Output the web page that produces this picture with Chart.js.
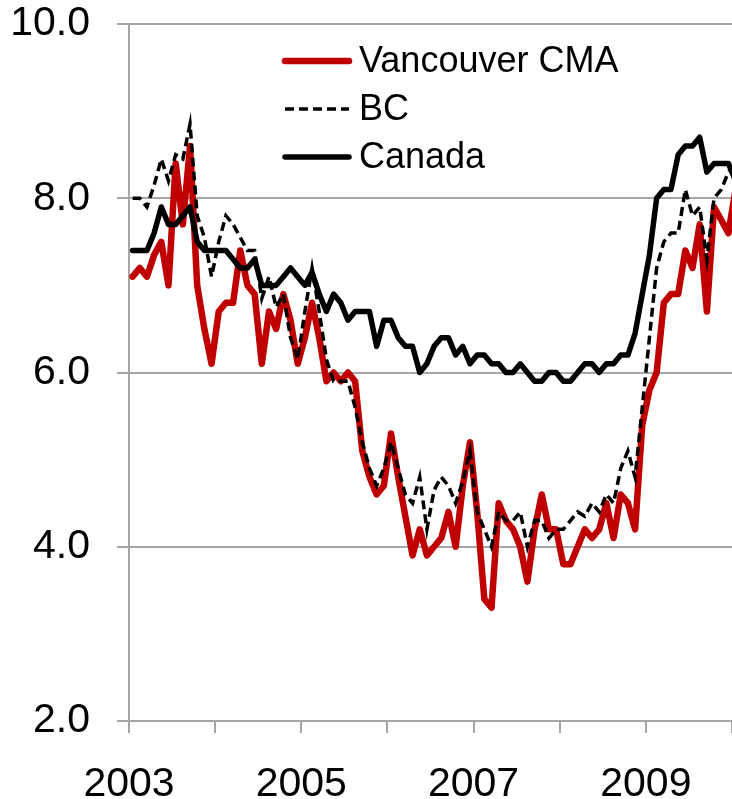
<!DOCTYPE html>
<html><head><meta charset="utf-8">
<style>
  html, body { margin: 0; padding: 0; background: #fff; overflow: hidden; }
  #wrap { position: relative; width: 732px; height: 799px; }
</style>
<script src="https://cdn.jsdelivr.net/npm/chart.js@4"></script>
</head>
<body>
<div id="wrap"><canvas id="chart"></canvas></div>

<script>
// monthly values, Jan 2003 onwards
const startYear = 2003;
const endYear = 2010;
const yearLabels = ['2003', '', '2005', '', '2007', '', '2009', ''];
const yMin = 2, yMax = 10, yStep = 2;

const vancouver = [
  7.1, 7.2, 7.1, 7.35, 7.5, 7.0, 8.4, 7.7, 8.6, 7.0, 6.5, 6.1,
  6.7, 6.8, 6.8, 7.4, 7.0, 6.9, 6.1, 6.7, 6.5, 6.9, 6.6, 6.1,
  6.4, 6.8, 6.4, 5.9, 6.0, 5.9, 6.0, 5.9, 5.1, 4.8, 4.6, 4.7,
  5.3, 4.8, 4.35, 3.9, 4.2, 3.9, 4.0, 4.1, 4.4, 4.0, 4.7, 5.2,
  4.4, 3.4, 3.3, 4.5, 4.3, 4.2, 4.0, 3.6, 4.2, 4.6, 4.2, 4.2,
  3.8, 3.8, 4.0, 4.2, 4.1, 4.2, 4.5, 4.1, 4.6, 4.5, 4.2, 5.4,
  5.8, 6.0, 6.8, 6.9, 6.9, 7.4, 7.2, 7.7, 6.7, 7.9, 7.75, 7.6,
  8.1
];

const bc = [
  8.0, 8.0, 7.9, 8.15, 8.45, 8.2, 8.5, 8.45, 8.85, 7.8, 7.55, 7.1,
  7.5, 7.8, 7.7, 7.55, 7.4, 7.4, 6.85, 7.1, 6.75, 6.9, 6.4, 6.15,
  6.7, 7.2, 6.7, 6.15, 5.9, 5.9, 5.9, 5.6, 5.2, 4.9, 4.7, 4.9,
  5.2, 4.9, 4.6, 4.5, 4.8, 4.2, 4.65, 4.8, 4.7, 4.5, 4.75, 5.1,
  4.4, 4.2, 4.0, 4.4, 4.3, 4.3, 4.4, 4.0, 4.3, 4.3, 4.1, 4.2,
  4.2, 4.3, 4.4, 4.35, 4.5, 4.4, 4.6, 4.5, 4.9, 5.1, 4.8, 5.6,
  6.4, 7.2, 7.5, 7.6, 7.6, 8.1, 7.8, 7.9, 7.3, 8.0, 8.1, 8.3,
  8.4
];

const canada = [
  7.4, 7.4, 7.4, 7.6, 7.9, 7.7, 7.7, 7.8, 7.9, 7.5, 7.4, 7.4,
  7.4, 7.4, 7.3, 7.2, 7.2, 7.3, 7.0, 7.0, 7.0, 7.1, 7.2, 7.1,
  7.0, 7.15, 6.9, 6.7, 6.9, 6.8, 6.6, 6.7, 6.7, 6.7, 6.3, 6.6,
  6.6, 6.4, 6.3, 6.3, 6.0, 6.1, 6.3, 6.4, 6.4, 6.2, 6.3, 6.1,
  6.2, 6.2, 6.1, 6.1, 6.0, 6.0, 6.1, 6.0, 5.9, 5.9, 6.0, 6.0,
  5.9, 5.9, 6.0, 6.1, 6.1, 6.0, 6.1, 6.1, 6.2, 6.2, 6.45, 6.9,
  7.35, 8.0, 8.1, 8.1, 8.5, 8.6, 8.6, 8.7, 8.3, 8.4, 8.4, 8.4,
  8.2
];

const gridColor = '#a6a6a6';
const fontFamily = '"Liberation Sans", Arial, sans-serif';

// each value sits in the middle of its month
function toPoints(values) {
  return values.map((v, i) => ({ x: startYear + (i + 0.5) / 12, y: v }));
}

// legend drawn inside the plot, top middle
const insideLegend = {
  id: 'insideLegend',
  afterDraw(chart) {
    const { ctx, chartArea } = chart;
    ctx.save();
    ctx.font = '36px ' + fontFamily;
    ctx.textBaseline = 'middle';
    ctx.fillStyle = '#000';
    chart.data.datasets.forEach((ds, i) => {
      const x = chartArea.left + 153;
      const y = chartArea.top + 37 + i * 48;
      ctx.beginPath();
      ctx.strokeStyle = ds.borderColor;
      ctx.lineWidth = ds.borderWidth;
      ctx.setLineDash(ds.borderDash || []);
      ctx.lineCap = ds.borderDash ? 'butt' : 'round';
      ctx.moveTo(x + 3, y);
      ctx.lineTo(x + 67, y);
      ctx.stroke();
      ctx.fillText(ds.label, x + 77, y + 1);
    });
    ctx.restore();
  }
};

Chart.defaults.font.family = fontFamily;
Chart.defaults.color = '#000';

new Chart(document.getElementById('chart'), {
  type: 'line',
  data: {
    datasets: [
      {
        label: 'Vancouver CMA',
        data: toPoints(vancouver),
        borderColor: '#c00000',
        borderWidth: 6.5,
        borderJoinStyle: 'round',
        borderCapStyle: 'round',
        order: 3
      },
      {
        label: 'BC',
        data: toPoints(bc),
        borderColor: '#000',
        borderWidth: 3.5,
        borderDash: [9, 5],
        order: 2
      },
      {
        label: 'Canada',
        data: toPoints(canada),
        borderColor: '#000',
        borderWidth: 5.5,
        borderJoinStyle: 'round',
        borderCapStyle: 'round',
        order: 1
      }
    ]
  },
  options: {
    responsive: true,
    maintainAspectRatio: false,
    animation: false,
    layout: { autoPadding: false, padding: { top: 24, left: 0, right: 0, bottom: 0 } },
    elements: { point: { radius: 0, hoverRadius: 0 }, line: { tension: 0 } },
    plugins: {
      legend: { display: false },
      tooltip: { enabled: false }
    },
    scales: {
      x: {
        type: 'linear',
        min: startYear,
        max: endYear,
        grid: { drawOnChartArea: false, drawTicks: true, tickLength: 12, color: gridColor, lineWidth: 2 },
        border: { color: gridColor, width: 2 },
        ticks: {
          stepSize: 1,
          autoSkip: false,
          maxRotation: 0,
          padding: 27,
          font: { size: 41 },
          callback: v => yearLabels[Math.round(v - startYear)] || ''
        },
        afterFit: s => {
          s.height = 78;
          s.paddingLeft = 0;
          s.paddingRight = 0;
        }
      },
      y: {
        min: yMin,
        max: yMax,
        grid: { color: gridColor, lineWidth: 2, tickLength: 12 },
        border: { color: gridColor, width: 2 },
        ticks: {
          stepSize: yStep,
          padding: 27,
          font: { size: 41 },
          callback: v => v.toFixed(1)
        },
        afterFit: s => {
          s.width = 129;
          s.paddingTop = 0;
          s.paddingBottom = 0;
        }
      }
    }
  },
  plugins: [insideLegend]
});
</script>
</body></html>
